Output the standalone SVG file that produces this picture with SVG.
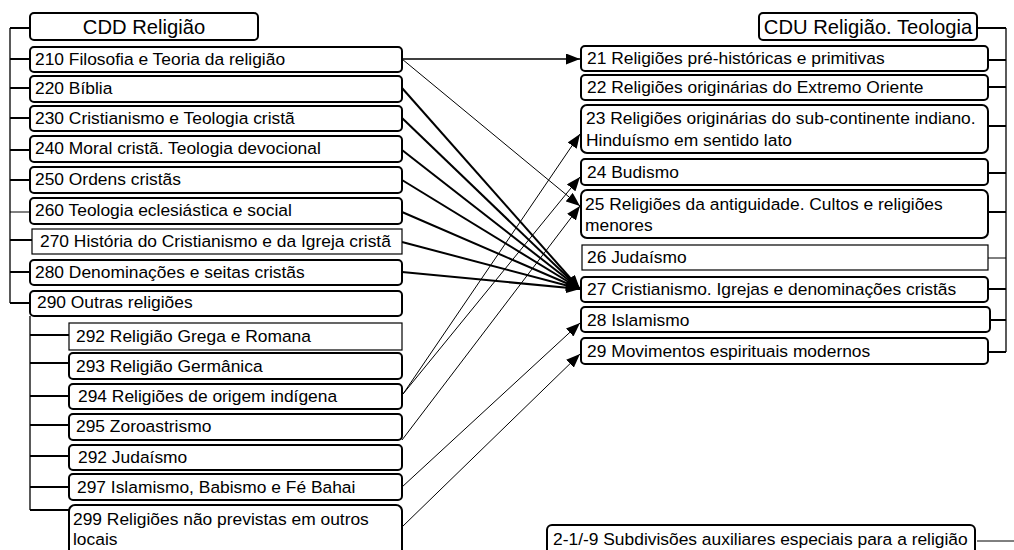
<svg xmlns="http://www.w3.org/2000/svg" width="1014" height="550" viewBox="0 0 1014 550">
<style>
.b{fill:#fff;stroke:#000;stroke-width:2}
.s{fill:#fff;stroke:#000;stroke-width:1.2}
text{font-family:"Liberation Sans",Arial,sans-serif;font-size:17.4px;fill:#000}
.t{font-size:20.2px;text-anchor:middle}
.tr{stroke:#000;stroke-width:2;fill:none}
.tv{stroke:#000;stroke-width:1.3;fill:none}
.c1{stroke:#000;stroke-width:1;fill:none}
.c2{stroke:#000;stroke-width:2;fill:none}
</style>
<defs>
<marker id="ah" markerUnits="userSpaceOnUse" markerWidth="14" markerHeight="11" refX="14" refY="5.5" orient="auto">
<path d="M0,0 L14,5.5 L0,11 z" fill="#000"/>
</marker>
</defs>
<rect width="1014" height="550" fill="#fff"/>
<g id="tree-lines">
<path class="tv" d="M10,28 V303"/>
<path class="tr" d="M10,28 H30 M10,59 H30 M10,88 H30 M10,118 H30 M10,150 H30 M10,180 H30 M10,240 H32 M10,272 H30 M10,303 H30"/>
<path class="c1" d="M10,212 H30"/>
<path class="tv" d="M30,316 V510"/>
<path class="tr" d="M30,335 H69 M30,363 H69 M30,396 H69 M30,425 H69 M30,456 H69 M30,487 H69 M30,510 H69"/>
<path class="tv" d="M1006,28 V352"/>
<path class="tr" d="M977,28 H1006 M988,60 H1006 M988,87 H1006 M988,126 H1006 M988,173 H1006 M988,212 H1006 M988,289 H1006 M990,320 H1006 M988,352 H1006"/>
<path class="c1" d="M988,258 H1006"/>
<path class="c1" d="M977,541 H1014"/>
</g>
<g id="connectors">
<path class="c2" style="stroke-width:1.5" d="M402,59 L580,59" marker-end="url(#ah)"/>
<path class="c1" d="M402,59 L580,206" marker-end="url(#ah)"/>
<path class="c2" d="M402,88 L580,289" marker-end="url(#ah)"/>
<path class="c2" d="M402,118 L580,289" marker-end="url(#ah)"/>
<path class="c2" d="M402,150 L580,289" marker-end="url(#ah)"/>
<path class="c2" d="M402,180 L580,289" marker-end="url(#ah)"/>
<path class="c2" d="M402,212 L580,289" marker-end="url(#ah)"/>
<path class="c2" d="M402,242 L580,289" marker-end="url(#ah)"/>
<path class="c2" d="M402,272 L580,289" marker-end="url(#ah)"/>
<path class="c1" d="M403,394 L580,134" marker-end="url(#ah)"/>
<path class="c1" d="M403,394 L580,177" marker-end="url(#ah)"/>
<path class="c1" d="M402,440 L580,206" marker-end="url(#ah)"/>
<path class="c1" d="M402,487 L580,323" marker-end="url(#ah)"/>
<path class="c1" d="M402,527 L580,354" marker-end="url(#ah)"/>
</g>
<g id="cdd-title"><rect class="b" x="30" y="13" width="228" height="27" rx="4"/><text class="t" x="144" y="34">CDD Religião</text></g>
<g id="cdd-210"><rect class="b" x="30" y="47" width="372" height="25" rx="4"/><text x="35" y="65">210 Filosofia e Teoria da religião</text></g>
<g id="cdd-220"><rect class="b" x="30" y="76" width="372" height="26" rx="4"/><text x="35" y="94">220 Bíblia</text></g>
<g id="cdd-230"><rect class="b" x="30" y="106" width="372" height="25" rx="4"/><text x="35" y="124">230 Cristianismo e Teologia cristã</text></g>
<g id="cdd-240"><rect class="b" x="30" y="136" width="372" height="26" rx="4"/><text x="35" y="154">240 Moral cristã. Teologia devocional</text></g>
<g id="cdd-250"><rect class="b" x="30" y="167" width="372" height="26" rx="4"/><text x="35" y="185">250 Ordens cristãs</text></g>
<g id="cdd-260"><rect class="b" x="30" y="198" width="372" height="26" rx="4"/><text x="35" y="216">260 Teologia eclesiástica e social</text></g>
<g id="cdd-270"><rect class="s" x="32" y="229" width="370" height="25"/><text x="40" y="247">270 História do Cristianismo e da Igreja cristã</text></g>
<g id="cdd-280"><rect class="b" x="30" y="260" width="372" height="25" rx="4"/><text x="35" y="278">280 Denominações e seitas cristãs</text></g>
<g id="cdd-290"><rect class="b" x="30" y="291" width="372" height="25" rx="4"/><text x="37" y="308">290 Outras religiões</text></g>
<g id="cdd-292a"><rect class="s" x="69" y="323" width="333" height="27"/><text x="76" y="342">292 Religião Grega e Romana</text></g>
<g id="cdd-293"><rect class="b" x="69" y="353" width="333" height="26" rx="4"/><text x="76" y="372">293 Religião Germânica</text></g>
<g id="cdd-294"><rect class="b" x="69" y="384" width="333" height="25" rx="4"/><text x="78" y="402">294 Religiões de origem indígena</text></g>
<g id="cdd-295"><rect class="b" x="69" y="414" width="333" height="26" rx="4"/><text x="76" y="432">295 Zoroastrismo</text></g>
<g id="cdd-292b"><rect class="b" x="69" y="445" width="333" height="25" rx="4"/><text x="78" y="463">292 Judaísmo</text></g>
<g id="cdd-297"><rect class="b" x="69" y="474" width="333" height="26" rx="4"/><text x="77" y="493">297 Islamismo, Babismo e Fé Bahai</text></g>
<g id="cdd-299"><rect class="b" x="69" y="505" width="333" height="55" rx="6"/><text x="73" y="525">299 Religiões não previstas em outros</text><text x="73" y="545">locais</text></g>
<g id="cdu-title"><rect class="b" x="759" y="13" width="218" height="27" rx="4"/><text class="t" x="868" y="34">CDU Religião. Teologia</text></g>
<g id="cdu-21"><rect class="b" x="581" y="46" width="407" height="25" rx="4"/><text x="587" y="64">21 Religiões pré-históricas e primitivas</text></g>
<g id="cdu-22"><rect class="b" x="581" y="75" width="407" height="25" rx="4"/><text x="587" y="93">22 Religiões originárias do Extremo Oriente</text></g>
<g id="cdu-23"><rect class="b" x="581" y="105" width="407" height="48" rx="6"/><text x="586" y="124">23 Religiões originárias do sub-continente indiano.</text><text x="586" y="146">Hinduísmo em sentido lato</text></g>
<g id="cdu-24"><rect class="b" x="581" y="159" width="407" height="26" rx="4"/><text x="587" y="178">24 Budismo</text></g>
<g id="cdu-25"><rect class="b" x="581" y="190" width="407" height="48" rx="6"/><text x="585" y="210">25 Religiões da antiguidade. Cultos e religiões</text><text x="585" y="231">menores</text></g>
<g id="cdu-26"><rect class="s" x="582" y="245" width="406" height="25"/><text x="587" y="263">26 Judaísmo</text></g>
<g id="cdu-27"><rect class="b" x="581" y="277" width="407" height="25" rx="4"/><text x="587" y="295">27 Cristianismo. Igrejas e denominações cristãs</text></g>
<g id="cdu-28"><rect class="b" x="581" y="307" width="409" height="25" rx="4"/><text x="587" y="326">28 Islamismo</text></g>
<g id="cdu-29"><rect class="b" x="581" y="338" width="407" height="26" rx="4"/><text x="587" y="357">29 Movimentos espirituais modernos</text></g>
<g id="cdu-aux"><rect class="b" x="547" y="525" width="428" height="40" rx="5"/><text x="553" y="545">2-1/-9 Subdivisões auxiliares especiais para a religião</text></g>
</svg>
